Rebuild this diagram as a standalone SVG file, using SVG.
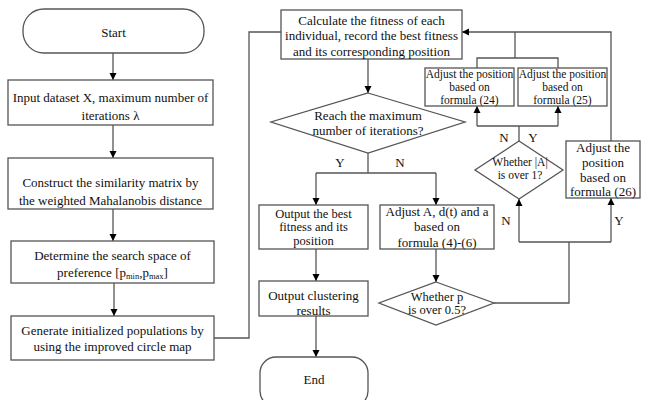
<svg xmlns="http://www.w3.org/2000/svg" width="651" height="400" viewBox="0 0 651 400">
<style>
.b{fill:#fff;stroke:#555;stroke-width:1.3}
.l{fill:none;stroke:#555;stroke-width:1.3}
text{font-family:"Liberation Serif","Times New Roman","DejaVu Serif",serif;font-size:13px;fill:#111;text-anchor:middle}
.s{font-size:11.5px}
.m{font-size:11.5px}
.t{font-size:12.5px}
.sub{font-size:8.5px}
</style>
<defs>
<marker id="a" viewBox="0 0 10 10" refX="10" refY="5" markerWidth="7" markerHeight="9" markerUnits="userSpaceOnUse" orient="auto">
<path d="M0,0 L10,5 L0,10 Z" fill="#000"/>
</marker>
</defs>
<rect width="651" height="400" fill="#fff"/>
<g id="connectors">
<path class="l" d="M113,53 V80" marker-end="url(#a)"/>
<path class="l" d="M113,125 V158" marker-end="url(#a)"/>
<path class="l" d="M113,209 V241" marker-end="url(#a)"/>
<path class="l" d="M114,283 V316" marker-end="url(#a)"/>
<path class="l" d="M214,338 H249 V32 H281"/>
<path class="l" d="M368,59 V93" marker-end="url(#a)"/>
<path class="l" d="M368,153 V173"/>
<path class="l" d="M316,173 H436"/>
<path class="l" d="M316,173 V205" marker-end="url(#a)"/>
<path class="l" d="M436,173 V205" marker-end="url(#a)"/>
<path class="l" d="M316,249 V281" marker-end="url(#a)"/>
<path class="l" d="M316,316 V357" marker-end="url(#a)"/>
<path class="l" d="M436,249 V282" marker-end="url(#a)"/>
<path class="l" d="M494,303 H569 V242"/>
<path class="l" d="M519,242 H611"/>
<path class="l" d="M519,242 V199" marker-end="url(#a)"/>
<path class="l" d="M611,242 V198" marker-end="url(#a)"/>
<path class="l" d="M519,141 V126"/>
<path class="l" d="M477,126 H558"/>
<path class="l" d="M477,126 V106" marker-end="url(#a)"/>
<path class="l" d="M558,126 V106" marker-end="url(#a)"/>
<path class="l" d="M477,68 V58 H558 V68"/>
<path class="l" d="M515,58 V32"/>
<path class="l" d="M611,141 V32 H462" marker-end="url(#a)"/>
<text x="340" y="167">Y</text>
<text x="400" y="167">N</text>
<text x="504" y="142">N</text>
<text x="533" y="142">Y</text>
<text x="506" y="225">N</text>
<text x="619" y="225">Y</text>
</g>
<g id="start">
<rect class="b" x="23" y="9" width="181" height="44" rx="21"/>
<text x="113.5" y="37">Start</text>
</g>
<g id="input">
<rect class="b" x="8" y="80" width="205" height="45"/>
<text x="110.5" y="102">Input dataset X, maximum number of</text>
<text x="110.5" y="119.5">iterations λ</text>
</g>
<g id="construct">
<rect class="b" x="8" y="158" width="205" height="51"/>
<text x="110.5" y="187">Construct the similarity matrix by</text>
<text x="110.5" y="204.5">the weighted Mahalanobis distance</text>
</g>
<g id="determine">
<rect class="b" x="11" y="241" width="203" height="42"/>
<text x="112.5" y="259.5">Determine the search space of</text>
<text x="112.5" y="276.5">preference [p<tspan class="sub" dy="2">min</tspan><tspan dy="-2">,p</tspan><tspan class="sub" dy="2">max</tspan><tspan dy="-2">]</tspan></text>
</g>
<g id="generate">
<rect class="b" x="11" y="316" width="203" height="44"/>
<text x="112.5" y="334.5">Generate initialized populations by</text>
<text x="112.5" y="350.5">using the improved circle map</text>
</g>
<g id="fitness">
<rect class="b" x="281" y="10" width="181" height="49"/>
<text x="371.5" y="24.5">Calculate the fitness of each</text>
<text x="371.5" y="39.5">individual, record the best fitness</text>
<text x="371.5" y="55.5">and its corresponding position</text>
</g>
<g id="reach">
<polygon class="b" points="368,93 465,122 368,153 271,122"/>
<text x="368" y="119.5">Reach the maximum</text>
<text x="368" y="134.5">number of iterations?</text>
</g>
<g id="outbest">
<rect class="b" x="259" y="205" width="109" height="44"/>
<text class="t" x="313.5" y="217.5">Output the best</text>
<text class="t" x="313.5" y="231">fitness and its</text>
<text class="t" x="313.5" y="244.5">position</text>
</g>
<g id="outclust">
<rect class="b" x="259" y="281" width="109" height="35"/>
<text x="313.5" y="299.5">Output clustering</text>
<text x="313.5" y="314.5">results</text>
</g>
<g id="end">
<rect class="b" x="260" y="357" width="108" height="50" rx="16"/>
<text x="314" y="383.5">End</text>
</g>
<g id="adjustA">
<rect class="b" x="380" y="205" width="114" height="44"/>
<text x="437" y="216">Adjust A, d(t) and a</text>
<text x="437" y="231">based on</text>
<text x="437" y="246.5">formula (4)-(6)</text>
</g>
<g id="whetherp">
<polygon class="b" points="436,282 494,303 436,325 379,303"/>
<text class="t" x="437" y="300.5">Whether p</text>
<text class="t" x="437" y="314">is over 0.5?</text>
</g>
<g id="whetherA">
<polygon class="b" points="519,141 563,170 519,199 475,170"/>
<text class="m" x="520" y="165.5">Whether |A|</text>
<text class="m" x="520" y="178.5">is over 1?</text>
</g>
<g id="f24">
<rect class="b" x="425" y="68" width="89" height="38"/>
<text class="s" x="469.5" y="78">Adjust the position</text>
<text class="s" x="469.5" y="91">based on</text>
<text class="s" x="469.5" y="104">formula (24)</text>
</g>
<g id="f25">
<rect class="b" x="518" y="68" width="89" height="38"/>
<text class="s" x="562.5" y="78">Adjust the position</text>
<text class="s" x="562.5" y="91">based on</text>
<text class="s" x="562.5" y="104">formula (25)</text>
</g>
<g id="f26">
<rect class="b" x="566" y="141" width="74" height="57"/>
<text x="603" y="151.5">Adjust the</text>
<text x="603" y="166.5">position</text>
<text x="603" y="181.5">based on</text>
<text x="603" y="196">formula (26)</text>
</g>
</svg>
